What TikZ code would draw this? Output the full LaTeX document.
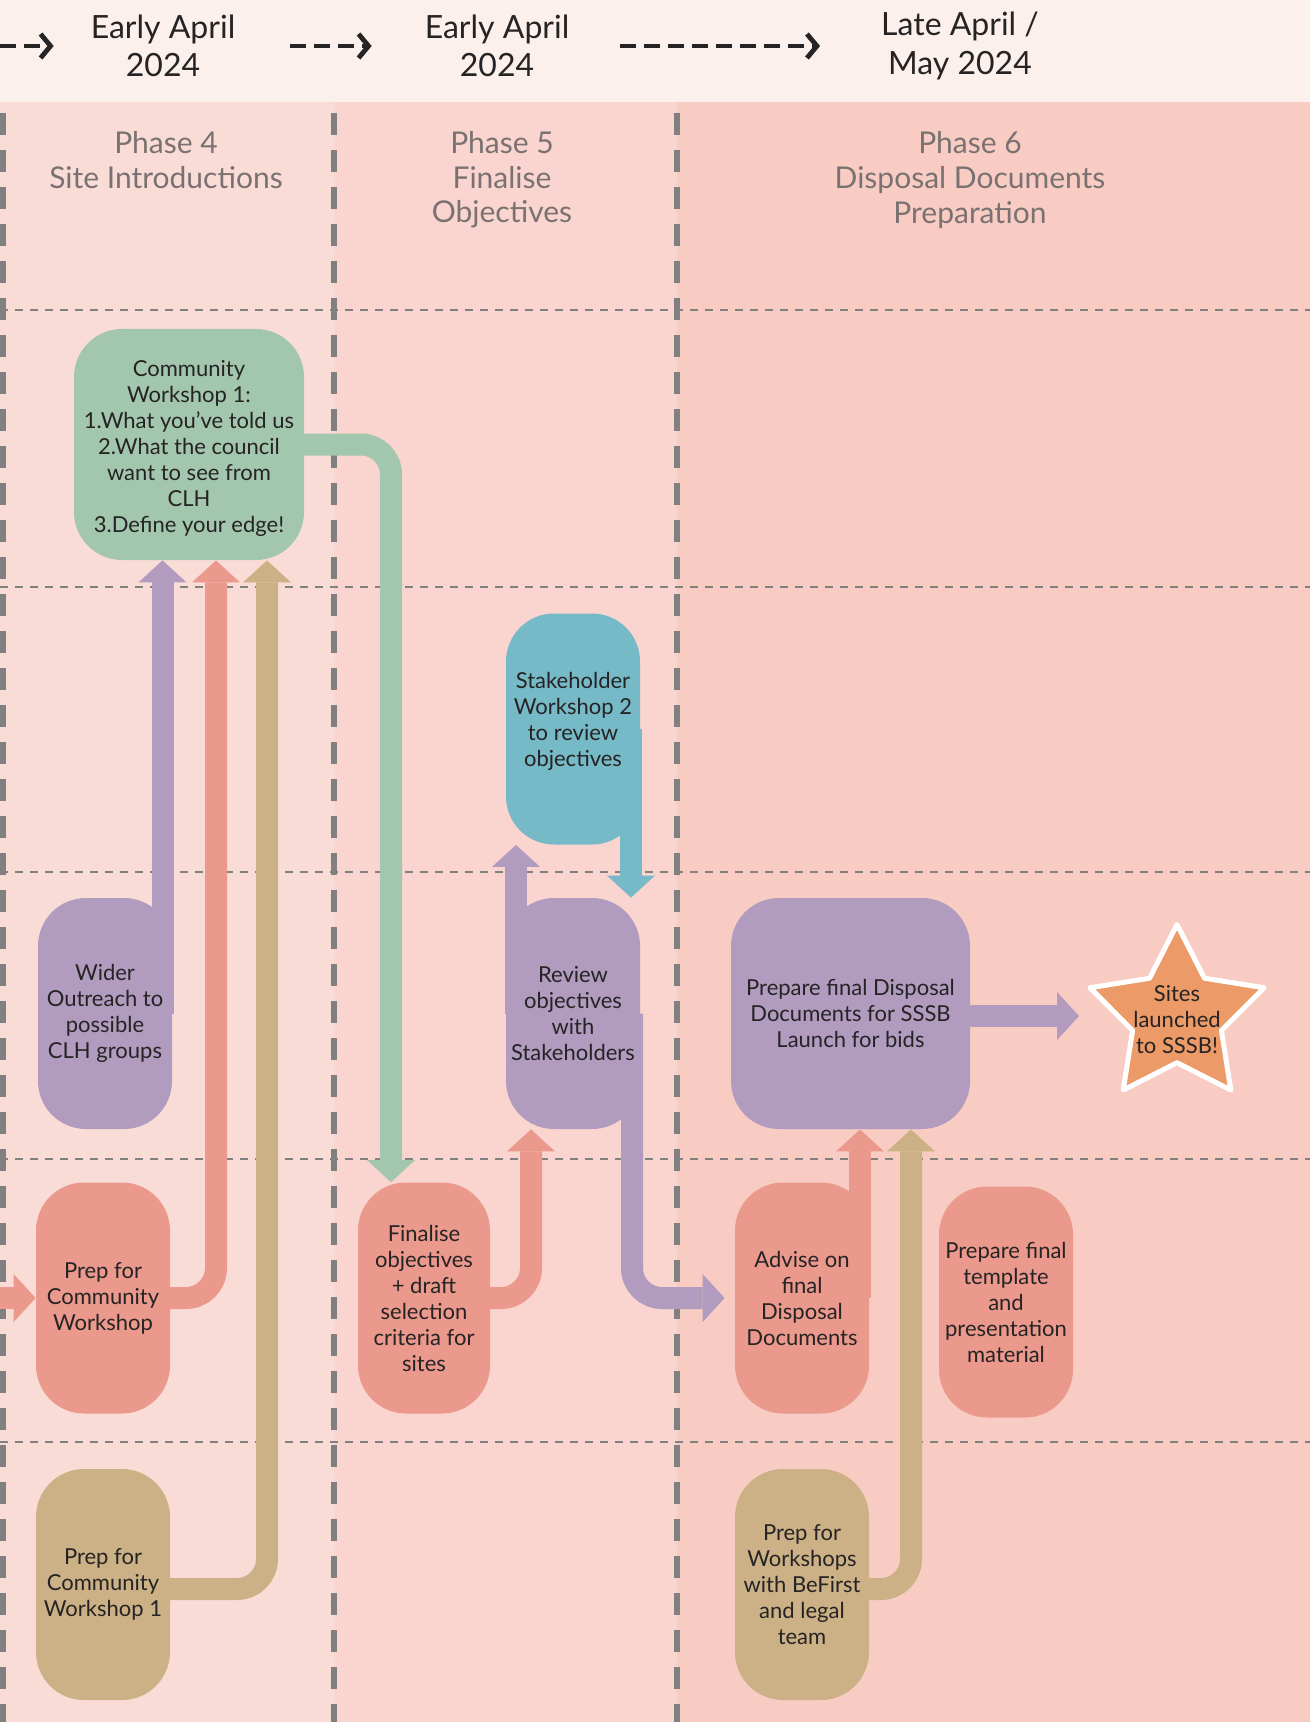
\documentclass[tikz,border=0pt]{standalone}
\usepackage{fontspec}
\setmainfont{Lato}
\usetikzlibrary{arrows.meta,shapes.geometric}

\definecolor{headbg}{HTML}{FCF0EC}
\definecolor{colA}{HTML}{FADCD6}
\definecolor{colB}{HTML}{FAD4CE}
\definecolor{colC}{HTML}{F8CCC3}
\definecolor{gridgray}{HTML}{808080}
\definecolor{phasegray}{HTML}{7A7272}
\definecolor{inkdark}{HTML}{262324}
\definecolor{cgreen}{HTML}{A3C6AE}
\definecolor{cpurple}{HTML}{B19BBF}
\definecolor{csalmon}{HTML}{EA998C}
\definecolor{ctan}{HTML}{CBB185}
\definecolor{cblue}{HTML}{76B9C7}
\definecolor{corange}{HTML}{EB9A68}

\pgfdeclarelayer{bg}
\pgfsetlayers{bg,main}

\begin{document}
\begin{tikzpicture}[x=0.5pt, y=-0.5pt,
        card/.style={rounded corners=24pt, minimum width=67pt, minimum height=115.5pt,
            inner sep=0pt, align=center, text=inkdark, font=\fontsize{11}{13}\selectfont},
        flow/.style={line width=11pt, rounded corners=15pt,
            -{Triangle[width=24pt,length=11pt,line width=0pt]}},
        timeline/.style={inkdark, line width=2.4pt, dash pattern=on 8pt off 4pt,
            -{Straight Barb[length=5pt,width=12pt]}},
        phase/.style={align=center, text=phasegray, font=\fontsize{15}{17.3}\selectfont},
        date/.style={align=center, text=inkdark, font=\fontsize{16}{19.2}\selectfont},
        lane/.style={gridgray, line width=2.7pt, dash pattern=on 11pt off 7.5pt},
        row/.style={gridgray, line width=0.7pt, dash pattern=on 4pt off 3.5pt}]
        \useasboundingbox (0,0) rectangle (1310,1722);

        % Background bands and the dashed grid
        \begin{pgfonlayer}{bg}
        \fill[headbg] (0,0) rectangle (1310,102);
        \fill[colA] (0,102) rectangle (334,1722);
        \fill[colB] (334,102) rectangle (677,1722);
        \fill[colC] (677,102) rectangle (1310,1722);
        \foreach \y in {310,587,872,1159,1442}
            \draw[row] (0,\y) -- (1310,\y);
        \foreach \x in {3,334,677}
            \draw[lane] (\x,113) -- (\x,1722);
        \end{pgfonlayer}

        % Dates and phase titles
        \node[date] (dateA) at (163,46) {Early April\\2024};
        \node[date] (dateB) at (497,46) {Early April\\2024};
        \node[date] (dateC) at (960,46) {Late April /\\May 2024};
        \coordinate (tstart) at (0,46);
        \draw[timeline] (tstart) -- ([xshift=-15pt]dateA.west);
        \draw[timeline] ([xshift=24pt]dateA.east) -- ([xshift=-23pt]dateB.west);
        \draw[timeline] ([xshift=22pt]dateB.east) -- ([xshift=-27pt]dateC.west);

        \node[phase] (phaseA) at (166,160) {Phase 4\\Site Introductions};
        \node[phase] (phaseB) at (502,180) {Phase 5\\Finalise\\Objectives};
        \node[phase] (phaseC) at (970,180) {Phase 6\\Disposal Documents\\Preparation};

        % Cards
        \node[card, fill=cgreen, minimum width=115pt] (cw1) at (189,444.5)
            {\mbox{}\\[-1pt]Community\\Workshop 1:\\1.What you’ve told us\\2.What the council\\want to see from\\CLH\\3.Define your edge!};
        \node[card, fill=cblue] (sw2) at (573,729) {Stakeholder\\Workshop 2\\to review\\objectives\\[-3pt]\mbox{}};
        \node[card, fill=cpurple] (wider) at (105,1013.5) {Wider\\Outreach to\\possible\\CLH groups};
        \node[card, fill=cpurple] (review) at (573,1013.5) {Review\\objectives\\with\\Stakeholders};
        \node[card, fill=cpurple, minimum width=119.5pt] (prepdisp) at (850.5,1013.5)
            {Prepare final Disposal\\Documents for SSSB\\Launch for bids};
        \node[card, fill=csalmon] (prepcw) at (103,1298) {Prep for\\Community\\Workshop};
        \node[card, fill=csalmon, minimum width=66pt] (finobj) at (424,1298)
            {Finalise\\objectives\\+ draft\\selection\\criteria for\\sites};
        \node[card, fill=csalmon] (advise) at (802,1298) {Advise on\\final\\Disposal\\Documents};
        \node[card, fill=csalmon] (template) at (1006,1302) {Prepare final\\template\\and\\presentation\\material};
        \node[card, fill=ctan] (prepcw1) at (103,1584.5) {Prep for\\Community\\Workshop 1};
        \node[card, fill=ctan] (prepbf) at (802,1584.5) {Prep for\\Workshops\\with BeFirst\\and legal\\team};

        % Launch star
        \node[star, star points=5, star point ratio=1.96, minimum size=91.5pt, inner sep=0pt,
            fill=corange, draw=white, line width=2.5pt, line join=round] (launch) at (1177,1016) {};
        \node[align=center, text=inkdark, font=\fontsize{11}{13}\selectfont] (launchtxt)
            at ([yshift=-2pt]launch.center) {Sites\\launched\\to SSSB!};

        % Flows between the cards
        \coordinate (inflow) at (0,1298);
        \begin{pgfonlayer}{bg}
        \draw[flow, cpurple] ([xshift=28.75pt]wider.center) -- ([xshift=-13.25pt]cw1.south);
        \draw[flow, csalmon] (prepcw.center) -| ([xshift=13.5pt]cw1.south);
        \draw[flow, ctan] ([yshift=-2.25pt]prepcw1.center) -| ([xshift=39pt]cw1.south);
        \draw[flow, csalmon] (inflow) -- (prepcw.west);

        \draw[flow, cgreen] (cw1.center) -| ([xshift=-16.5pt]finobj.north);
        \draw[flow, csalmon] (finobj.center) -| ([xshift=-21pt]review.south);
        \draw[flow, cpurple] ([xshift=-28.5pt]review.center) -- ([xshift=-28.5pt]sw2.south);
        \draw[flow, cblue] ([xshift=29pt]sw2.center) -- ([xshift=29pt]review.north);
        \draw[flow, cpurple] ([xshift=29.5pt]review.center) |- ([xshift=-5pt]advise.west);

        \draw[flow, csalmon] ([xshift=29pt]advise.center) -- ([xshift=4.75pt]prepdisp.south);
        \draw[flow, ctan] ([yshift=-2.25pt]prepbf.center) -| ([xshift=30.25pt]prepdisp.south);
        \draw[flow, cpurple] ([yshift=-1.25pt]prepdisp.center) -- ([xshift=-49pt]launch.center);
        \end{pgfonlayer}
    \end{tikzpicture}
\end{document}
